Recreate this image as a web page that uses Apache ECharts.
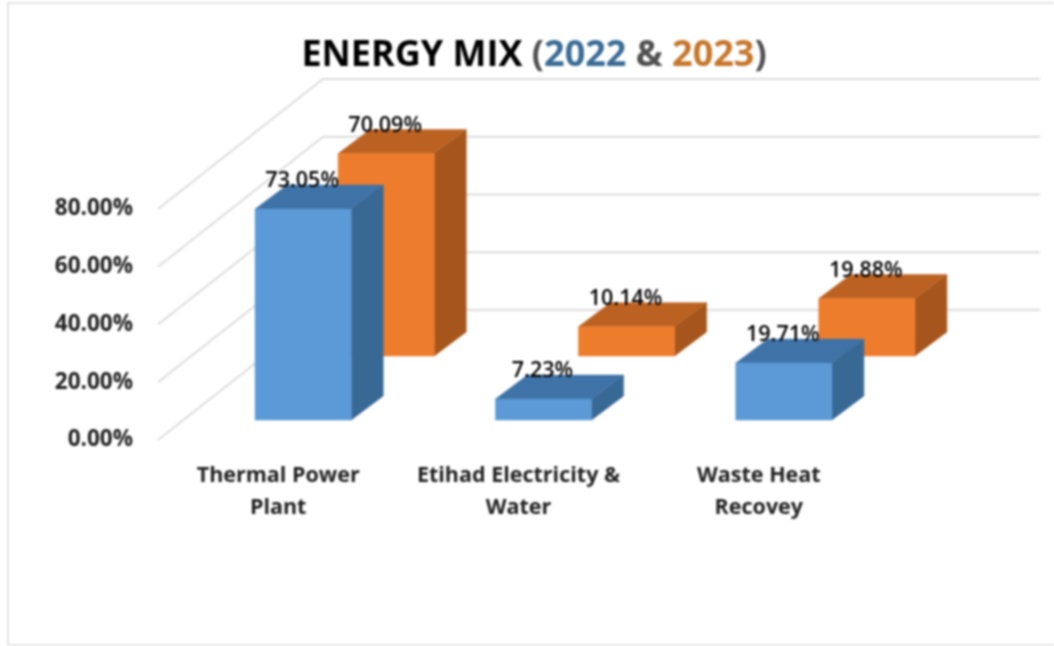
<!DOCTYPE html>
<html><head><meta charset="utf-8">
<style>html,body{margin:0;padding:0;background:#fff}#c{width:1054px;height:646px;filter:blur(0.8px)}</style>
<script src="https://cdn.jsdelivr.net/npm/echarts@6/dist/echarts.min.js"></script>
</head><body><div id="c"></div>
<script>
const categories = ['Thermal Power\nPlant', 'Etihad Electricity &\nWater', 'Waste Heat\nRecovey'];
const values2022 = [73.05, 7.23, 19.71];
const values2023 = [70.09, 10.14, 19.88];
const ticks = [0, 20, 40, 60, 80];

const FONT = '"Open Sans","Noto Sans",sans-serif';
const depth = {x: 32, y: -24};
function barSeries(name, values, slot, colors) {
  return {
    name, type: 'custom', coordinateSystem: 'cartesian2d', clip: false, z: 3,
    encode: {x: 0, y: 1},
    data: values.map((v, i) => [i, v]),
    renderItem(params, api) {
      const band = api.size([1, 0])[0];
      const w = band * 0.4;
      const top = api.coord([api.value(0), api.value(1)]);
      const base = api.coord([api.value(0), 0]);
      const l = top[0] + slot.dx - w / 2, r = l + w;
      const t = top[1] + slot.dy, b = base[1] + slot.dy;
      const face = (pts, fill) => ({type: 'polygon', shape: {points: pts},
        style: {fill, stroke: fill, lineWidth: 0.5}});
      return {type: 'group', children: [
        face([[r, t], [r + depth.x, t + depth.y], [r + depth.x, b + depth.y], [r, b]], colors.side),
        face([[l, t], [l + depth.x, t + depth.y], [r + depth.x, t + depth.y], [r, t]], colors.top),
        face([[l, t], [r, t], [r, b], [l, b]], colors.front),
        {type: 'text', z2: 10, style: {
          text: api.value(1).toFixed(2) + '%', x: l + w / 2 - 1, y: t - 28,
          align: 'center', verticalAlign: 'middle',
          font: '600 21.5px ' + FONT, fill: '#000000'}}
      ]};
    }
  };
}
const option = {
  animation: false,
  backgroundColor: '#fff',
  title: {
    left: 529, top: 33, textAlign: 'center',
    text: '{a|ENERGY MIX }{g|(}{b|2022}{g| & }{c|2023}{g|)}',
    textStyle: {rich: {
      a: {fontFamily: FONT, fontSize: 36, fontWeight: 700, color: '#000000'},
      g: {fontFamily: FONT, fontSize: 36, fontWeight: 700, color: '#505050'},
      b: {fontFamily: FONT, fontSize: 36, fontWeight: 700, color: '#3a6c95'},
      c: {fontFamily: FONT, fontSize: 36, fontWeight: 700, color: '#c6762b'}
    }}
  },
  graphic: [{type: 'rect', z: 0, shape: {x: 8, y: 3, width: 1060, height: 642},
    style: {fill: 'none', stroke: '#e4e4e4', lineWidth: 2}}],
  grid: {left: 158, top: 209, width: 721, height: 231, containLabel: false},
  xAxis: {type: 'category', data: categories,
    axisLine: {show: false}, axisTick: {show: false},
    axisLabel: {margin: 20, lineHeight: 32, fontFamily: FONT, fontSize: 21.5, fontWeight: 700, color: '#222222', interval: 0}},
  yAxis: {type: 'value', min: 0, max: 80, interval: 20,
    axisLine: {show: false}, axisTick: {show: false}, splitLine: {show: false},
    axisLabel: {margin: 25, fontFamily: FONT, fontSize: 22.5, fontWeight: 700, color: '#222222',
      formatter: v => v.toFixed(2) + '%'}},
  series: [
    {name: 'grid', type: 'custom', coordinateSystem: 'cartesian2d', clip: false, z: 1, silent: true,
     encode: {y: 0}, data: ticks.map(t => [t]),
     renderItem(params, api) {
       const y = api.coord([0, api.value(0)])[1];
       const x0 = params.coordSys.x;
       return {type: 'polyline', shape: {points: [[x0, y], [x0 + 165, y - 130], [1040, y - 130]]},
         style: {fill: 'none', stroke: '#dcdcdc', lineWidth: 2}};
     }},
    barSeries('2023', values2023, {dx: 108, dy: -84}, {front: '#ed7d2d', top: '#bb6223', side: '#a6561c'}),
    barSeries('2022', values2022, {dx: 25, dy: -20}, {front: '#5b9ad6', top: '#3f72a6', side: '#386894'})
  ]
};
echarts.init(document.getElementById('c'), null, {renderer: 'canvas'}).setOption(option);
</script></body></html>
